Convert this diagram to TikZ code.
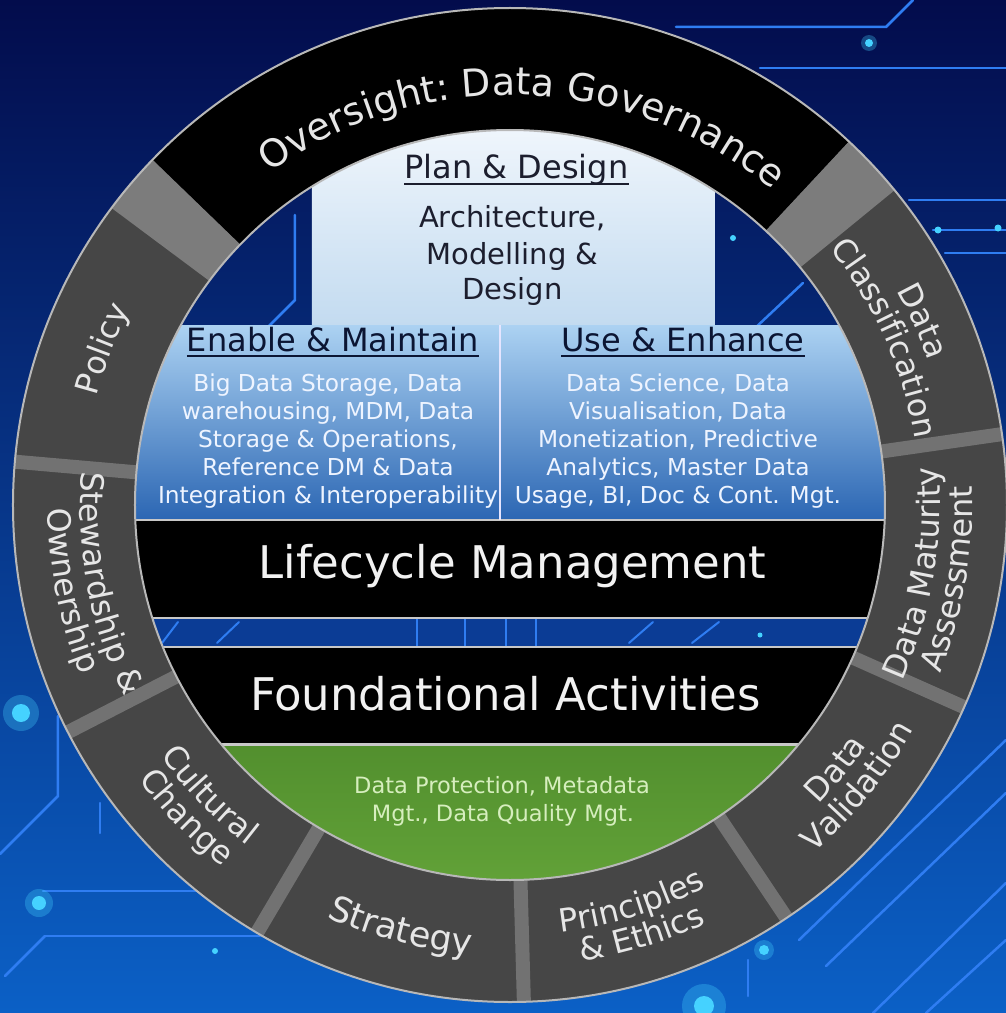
\documentclass[tikz,border=0pt]{standalone}
\usepackage{fontspec}
\setmainfont{DejaVu Sans}
\usetikzlibrary{decorations.text}
\definecolor{bgtop}{HTML}{030C4C}
\definecolor{bgmid}{HTML}{072C88}
\definecolor{bgbot}{HTML}{0B60C6}
\definecolor{ringgray}{HTML}{464646}
\definecolor{sepgray}{HTML}{727272}
\definecolor{wedgegray}{HTML}{7C7C7C}
\definecolor{rimline}{HTML}{B8B8B8}
\definecolor{circuit}{HTML}{2F7DF2}
\definecolor{glow}{HTML}{45D2FF}
\definecolor{plantop}{HTML}{F0F6FC}
\definecolor{planbot}{HTML}{C3DBF0}
\definecolor{bluetop}{HTML}{ACD2F2}
\definecolor{bluebot}{HTML}{2B66B3}
\definecolor{gapblue}{HTML}{0B3C95}
\definecolor{greentop}{HTML}{528F2E}
\definecolor{greenbot}{HTML}{62A238}
\definecolor{darktext}{HTML}{1C1E2E}
\definecolor{navytext}{HTML}{0B1533}
\definecolor{bodytext}{HTML}{EEF4FF}
\definecolor{greentext}{HTML}{D6EEBE}
\definecolor{ringtext}{HTML}{E6E6E6}
\definecolor{bandline}{HTML}{C8C8C8}
\newcommand\ringsec[3]{\fill[#1] (#2:375) arc[start angle=#2,end angle=#3,radius=375] -- (#3:497) arc[start angle=#3,end angle=#2,radius=497] -- cycle;}
\newcommand\ringfont{\fontsize{32}{32}\selectfont\color{ringtext}}
\newcommand\bigringfont{\fontsize{35}{35}\selectfont\color{ringtext}}
\newcommand\govfont{\fontsize{38}{38}\selectfont\color{ringtext}}
\newcommand\cwlabel[3]{\path[decorate,decoration={text along path,text align=center,text={|\ringfont|#3}}] (#1+60:#2) arc[start angle=#1+60,end angle=#1-60,radius=#2];}
\newcommand\ccwlabel[3]{\path[decorate,decoration={text along path,text align=center,text={|\ringfont|#3}}] (#1-60:#2) arc[start angle=#1-60,end angle=#1+60,radius=#2];}
\begin{document}
\begin{tikzpicture}[x=1pt,y=1pt,
  circ/.style={draw=circuit,line width=2.5,line cap=round},
  bandtxt/.style={font=\fontsize{45}{50}\selectfont,text=white!95!black,inner sep=0,anchor=base},
  coltitle/.style={font=\fontsize{32}{36}\selectfont,text=navytext,inner sep=0,anchor=base},
  bodytxt/.style={font=\fontsize{23.3}{28}\selectfont,text=bodytext,inner sep=0,anchor=base},
  plantxt/.style={font=\fontsize{29}{34}\selectfont,text=darktext,inner sep=0,anchor=base},
  greentxt/.style={font=\fontsize{22.5}{27}\selectfont,text=greentext,inner sep=0,anchor=base},
  uline/.style={line width=2.2},
  dot/.style={fill=glow},
  halo/.style={fill=glow,opacity=0.3}]
\useasboundingbox (-510,-508) rectangle (496,505);
\shade[top color=bgtop,middle color=bgmid,bottom color=bgbot] (-510,-508) rectangle (496,505);
% circuit lines
\draw[circ] (166,478) -- (376,478) -- (403,505);
\draw[circ] (250,437) -- (496,437);
\draw[circ] (399,305) -- (496,305);
\draw[circ] (423,275) -- (496,275);
\draw[circ] (435,252) -- (496,252);
\draw[circ] (-452,-211) -- (-452,-291) -- (-510,-349);
\draw[circ] (-410,-298) -- (-410,-328);
\draw[circ] (-467,-386) -- (-300,-386);
\draw[circ] (-465,-431) -- (-250,-431);
\draw[circ] (-465,-431) -- (-505,-471);
\draw[circ] (289,-435) -- (496,-235);
\draw[circ] (316,-461) -- (496,-288);
\draw[circ] (363,-508) -- (496,-378);
\draw[circ] (416,-508) -- (496,-435);
\draw[circ] (238,-455) -- (238,-491);
\draw[circ] (-215,290) -- (-215,205) -- (-242,178);
\draw[circ] (243,175) -- (293,222);
% glow dots
\fill[halo] (-489,-208) circle (18); \fill[dot] (-489,-208) circle (9);
\fill[halo] (-471,-398) circle (14); \fill[dot] (-471,-398) circle (7);
\fill[dot] (-295,-446) circle (3);
\fill[halo] (194,-501) circle (22); \fill[dot] (194,-501) circle (10);
\fill[halo] (254,-445) circle (10); \fill[dot] (254,-445) circle (5);
\fill[halo] (359,462) circle (8); \fill[dot] (359,462) circle (4);
\fill[dot] (428,275) circle (3.5);
\fill[dot] (488,277) circle (3.5);
\fill[dot] (223,267) circle (3);
% ring
\fill[ringgray,even odd rule] (0,0) circle (497) (0,0) circle (375);
\ringsec{black}{47}{136}
\ringsec{wedgegray}{39.3}{47}
\ringsec{wedgegray}{136}{143.3}
\foreach \a in {8.2,336,303.8,271.6,239.4,207.2,175}
  \fill[sepgray,rotate=\a] (375,-7) rectangle (497,7);
% inner disc
\begin{scope}
\clip (0,0) circle (375);
\shade[top color=plantop,bottom color=planbot] (-198,180) rectangle (205,380);
\shade[top color=bluetop,bottom color=bluebot] (-380,180) rectangle (380,-15);
\fill[black] (-380,-15) rectangle (380,-113);
\fill[gapblue] (-380,-113) rectangle (380,-142);
\draw[circ,line width=2] (-93,-113) -- (-93,-142);
\draw[circ,line width=2] (-45,-113) -- (-45,-142);
\draw[circ,line width=2] (-4,-113) -- (-4,-142);
\draw[circ,line width=2] (26,-113) -- (26,-142);
\draw[circ,line width=2] (-348,-138) -- (-332,-117);
\draw[circ,line width=2] (-293,-138) -- (-271,-117);
\draw[circ,line width=2] (119,-138) -- (143,-117);
\draw[circ,line width=2] (182,-138) -- (209,-117);
\fill[dot] (250,-130) circle (2.5);
\fill[black] (-380,-142) rectangle (380,-239);
\shade[top color=greentop,bottom color=greenbot] (-380,-239) rectangle (380,-380);
\draw[bandline,line width=2.5] (-380,-15) -- (380,-15);
\draw[bandline,line width=2.5] (-380,-113) -- (380,-113);
\draw[bandline,line width=2.5] (-380,-142) -- (380,-142);
\draw[bandline,line width=2.5] (-380,-239.5) -- (380,-239.5);
\draw[white!90!blue,line width=2.5] (-10,180) -- (-10,-15);
\end{scope}
\draw[rimline,line width=2] (0,0) circle (497);
\draw[rimline,line width=2] (0,0) circle (375);
% ring labels
\path[decorate,decoration={text along path,text align=center,text={|\govfont|Oversight: Data Governance}}] (168:410) arc[start angle=168,end angle=8,radius=410];
\cwlabel{159}{427}{Policy}
\ccwlabel{191}{430}{Stewardship {\&}}
\ccwlabel{191}{462}{Ownership}
\ccwlabel{224}{430}{Cultural}
\ccwlabel{224}{462}{Change}
\path[decorate,decoration={text along path,text align=center,text={|\bigringfont|Strategy}}] (195.5:451) arc[start angle=195.5,end angle=315.5,radius=451];
\ccwlabel{287}{430}{Principles}
\ccwlabel{287}{462}{{\&} Ethics}
\ccwlabel{321}{430}{Data}
\ccwlabel{321}{462}{Validation}
\ccwlabel{350.5}{430}{Data Maturity}
\ccwlabel{350.5}{462}{Assessment}
\cwlabel{24}{442}{Data}
\cwlabel{24}{410}{Classification}
% plan & design
\node[plantxt,font=\fontsize{32}{36}\selectfont] (pd) at (6.5,326) {Plan \& Design};
\draw[darktext,uline] ([yshift=-5]pd.base west) -- ([yshift=-5]pd.base east);
\node[plantxt] (pd1) at (2.5,277) {Architecture,};
\node[plantxt] (pd2) at (2.5,241) {Modelling \&};
\node[plantxt] (pd3) at (2.5,206) {Design};
% columns
\node[coltitle] (em) at (-177,154) {Enable \& Maintain};
\draw[navytext,uline] ([yshift=-5]em.base west) -- ([yshift=-5]em.base east);
\node[coltitle] (ue) at (173,154) {Use \& Enhance};
\draw[navytext,uline] ([yshift=-5]ue.base west) -- ([yshift=-5]ue.base east);
\node[bodytxt] (em1) at (-182,114) {Big Data Storage, Data};
\node[bodytxt] (em2) at (-182,86) {warehousing, MDM, Data};
\node[bodytxt] (em3) at (-182,58) {Storage \& Operations,};
\node[bodytxt] (em4) at (-182,30) {Reference DM \& Data};
\node[bodytxt] (em5) at (-182,2) {Integration \& Interoperability};
\node[bodytxt] (ue1) at (168,114) {Data Science, Data};
\node[bodytxt] (ue2) at (168,86) {Visualisation, Data};
\node[bodytxt] (ue3) at (168,58) {Monetization, Predictive};
\node[bodytxt] (ue4) at (168,30) {Analytics, Master Data};
\node[bodytxt] (ue5) at (168,2) {Usage, BI, Doc \& Cont. Mgt.};
% bands
\node[bandtxt] (lm) at (2.5,-73) {Lifecycle Management};
\node[bandtxt] (fa) at (-4.5,-205) {Foundational Activities};
\node[greentxt] (g1) at (-8,-288) {Data Protection, Metadata};
\node[greentxt] (g2) at (-7,-316) {Mgt., Data Quality Mgt.};
\end{tikzpicture}
\end{document}
